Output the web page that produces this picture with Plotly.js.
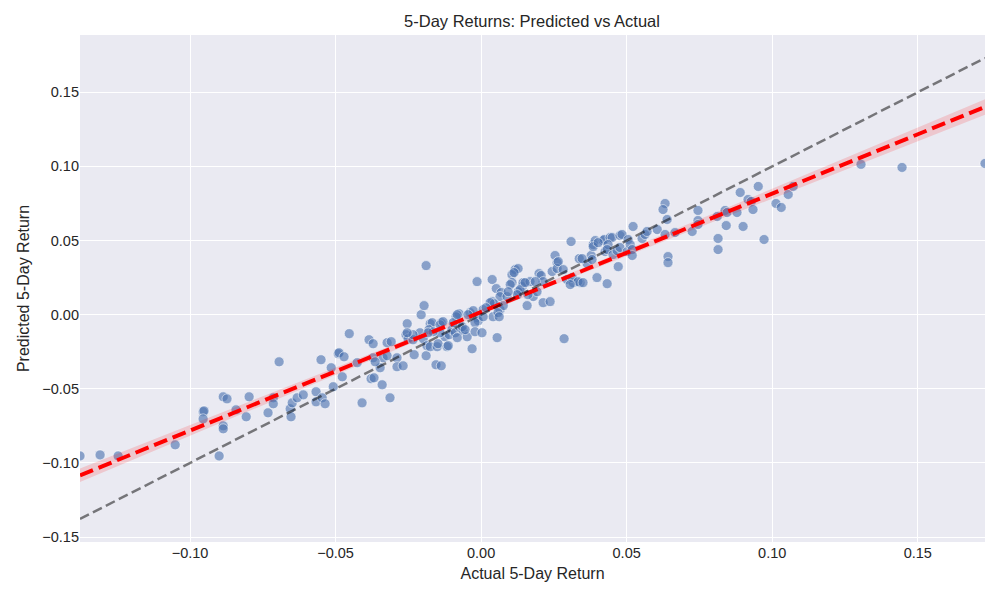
<!DOCTYPE html>
<html>
<head>
<meta charset="utf-8">
<script src="https://cdn.plot.ly/plotly-3.0.1.min.js"></script>
<style>html,body{margin:0;padding:0;background:#fff;}#chart{width:1000px;height:600px;}</style>
</head>
<body>
<div id="chart"></div>
<script>
// Actual 5-day returns (x) and predicted 5-day returns (y)
const actual = [
-0.1378,-0.1309,-0.1247,-0.1051,-0.0955,-0.0952,-0.0955,-0.0900,-0.0886,-0.0873,
-0.0886,-0.0886,-0.0842,-0.0807,-0.0797,-0.0732,-0.0714,-0.0714,-0.0694,-0.0656,
-0.0653,-0.0649,-0.0632,-0.0611,-0.0567,-0.0567,-0.0546,-0.0536,-0.0550,-0.0515,
-0.0508,-0.0491,-0.0488,-0.0471,-0.0477,-0.0453,-0.0426,-0.0409,-0.0385,-0.0371,
-0.0378,-0.0368,-0.0371,-0.0347,-0.0340,-0.0323,-0.0309,-0.0337,-0.0323,-0.0313,
-0.0289,-0.0289,-0.0268,-0.0254,-0.0258,-0.0251,-0.0234,-0.0230,-0.0364,-0.0206,
-0.0196,-0.0210,-0.0199,-0.0189,-0.0175,-0.0168,-0.0179,-0.0186,-0.0175,-0.0151,
-0.0148,-0.0155,-0.0137,-0.0137,-0.0124,-0.0110,-0.0117,-0.0189,-0.0141,-0.0100,
-0.0089,-0.0072,-0.0062,-0.0048,-0.0082,-0.0113,-0.0031,-0.0076,-0.0086,-0.0038,
-0.0027,-0.0014,-0.0010,-0.0021,-0.0014,-0.0096,-0.0065,-0.0055,-0.0021,0.0003,
-0.0045,-0.0082,-0.0165,-0.0141,-0.0131,-0.0182,-0.0234,-0.0254,0.0038,0.0052,
0.0069,0.0065,0.0038,0.0045,0.0117,0.0127,0.0106,0.0113,0.0106,0.0100,
0.0141,0.0144,0.0168,0.0199,0.0206,0.0254,0.0261,0.0244,0.0261,0.0213,
0.0127,0.0134,0.0124,0.0089,0.0093,0.0179,0.0192,0.0161,0.0158,0.0213,
0.0237,0.0065,0.0076,0.0041,0.0058,0.0007,0.0062,0.0007,0.0055,0.0285,
0.0031,0.0151,0.0186,0.0017,0.0309,0.0265,0.0282,0.0295,0.0316,0.0340,
0.0313,0.0333,0.0350,0.0306,0.0337,0.0364,0.0378,0.0381,0.0385,0.0392,
0.0385,0.0398,0.0433,0.0419,0.0423,0.0443,0.0450,0.0402,0.0426,0.0436,
0.0433,0.0453,0.0467,0.0477,0.0477,0.0484,0.0471,0.0502,0.0505,0.0512,
0.0519,0.0519,0.0522,0.0553,0.0563,0.0570,0.0347,0.0605,0.0632,0.0625,
0.0639,0.0632,0.0642,0.0642,0.0666,0.0725,0.0745,0.0745,0.0745,0.0811,
0.0814,0.0814,0.0838,0.0845,0.0842,0.0879,0.0890,0.0900,0.0917,0.0928,
0.0934,0.0952,0.0972,0.1013,0.1031,0.1055,0.1072,0.1305,0.1446,0.1731
];
const predicted = [
-0.0953,-0.0946,-0.0953,-0.0878,-0.0655,-0.0649,-0.0703,-0.0953,-0.0554,-0.0568,
-0.0750,-0.0770,-0.0642,-0.0689,-0.0554,-0.0662,-0.0561,-0.0601,-0.0318,-0.0635,
-0.0689,-0.0595,-0.0561,-0.0541,-0.0520,-0.0588,-0.0561,-0.0601,-0.0304,-0.0358,
-0.0486,-0.0264,-0.0257,-0.0284,-0.0419,-0.0128,-0.0324,-0.0595,-0.0169,-0.0196,
-0.0432,-0.0426,-0.0291,-0.0358,-0.0473,-0.0189,-0.0182,-0.0291,-0.0277,-0.0561,
-0.0291,-0.0351,-0.0345,-0.0061,-0.0135,-0.0162,-0.0169,-0.0270,-0.0318,0.0000,
0.0061,-0.0122,-0.0162,-0.0277,-0.0061,-0.0054,-0.0101,-0.0209,-0.0216,-0.0216,
-0.0196,-0.0338,-0.0345,-0.0054,-0.0149,-0.0135,-0.0216,0.0331,-0.0122,-0.0101,
-0.0122,-0.0088,-0.0108,-0.0149,-0.0155,-0.0209,-0.0230,0.0007,-0.0014,0.0014,
0.0027,-0.0020,-0.0041,-0.0054,0.0223,-0.0054,-0.0081,-0.0101,-0.0115,-0.0122,
0.0000,0.0000,-0.0115,-0.0068,-0.0047,-0.0122,-0.0135,-0.0122,0.0237,0.0176,
0.0149,0.0122,0.0088,0.0074,0.0304,0.0311,0.0270,0.0284,0.0216,0.0203,
0.0189,0.0216,0.0223,0.0277,0.0264,0.0399,0.0351,0.0291,0.0311,0.0223,
0.0155,0.0169,0.0135,0.0122,0.0155,0.0122,0.0155,0.0135,0.0061,0.0081,
0.0088,0.0034,0.0061,-0.0014,0.0014,0.0034,-0.0014,-0.0014,-0.0155,-0.0162,
0.0081,0.0216,0.0223,0.0047,0.0493,0.0358,0.0304,0.0237,0.0216,0.0216,
0.0250,0.0223,0.0216,0.0203,0.0378,0.0345,0.0399,0.0372,0.0473,0.0500,
0.0459,0.0250,0.0209,0.0500,0.0507,0.0520,0.0520,0.0486,0.0426,0.0473,
0.0439,0.0405,0.0432,0.0453,0.0534,0.0541,0.0324,0.0426,0.0507,0.0473,
0.0439,0.0399,0.0595,0.0514,0.0541,0.0561,0.0378,0.0574,0.0750,0.0709,
0.0642,0.0541,0.0392,0.0351,0.0554,0.0561,0.0703,0.0635,0.0608,0.0662,
0.0514,0.0439,0.0703,0.0689,0.0601,0.0689,0.0824,0.0595,0.0777,0.0764,
0.0709,0.0865,0.0507,0.0750,0.0723,0.0811,0.0865,0.1014,0.0993,0.1020
];

const xTickVals = [-0.10, -0.05, 0.00, 0.05, 0.10, 0.15];
const yTickVals = [-0.15, -0.10, -0.05, 0.00, 0.05, 0.10, 0.15];

const titleText = "5-Day Returns: Predicted vs Actual";
const xTitle = "Actual 5-Day Return";
const yTitle = "Predicted 5-Day Return";

// ---- linear regression with 95% confidence band, computed from the data ----
const n = actual.length;
const mx = actual.reduce((a, b) => a + b, 0) / n;
const my = predicted.reduce((a, b) => a + b, 0) / n;
let sxx = 0, sxy = 0;
for (let i = 0; i < n; i++) { sxx += (actual[i] - mx) ** 2; sxy += (actual[i] - mx) * (predicted[i] - my); }
const slope = sxy / sxx;
const intercept = my - slope * mx;
let sse = 0;
for (let i = 0; i < n; i++) { sse += (predicted[i] - (intercept + slope * actual[i])) ** 2; }
const s = Math.sqrt(sse / (n - 2));
const tCrit = 1.97;

const xMin = Math.min(...actual), xMax = Math.max(...actual);
const gx = [], gy = [], lo = [], hi = [];
for (let k = 0; k <= 100; k++) {
  const xv = xMin + (xMax - xMin) * k / 100;
  const yv = intercept + slope * xv;
  const se = s * Math.sqrt(1 / n + (xv - mx) ** 2 / sxx);
  gx.push(xv); gy.push(yv); lo.push(yv - tCrit * se); hi.push(yv + tCrit * se);
}
const bandX = gx.concat(gx.slice().reverse());
const bandY = hi.concat(lo.slice().reverse());

// y-range like matplotlib autoscale (5% margins) over everything drawn
const allY = predicted.concat(lo, hi, [xMin, xMax]);
const yLo = Math.min(...allY), yHi = Math.max(...allY);
const pad = (yHi - yLo) * 0.05;

const traces = [
  {
    x: actual, y: predicted, type: "scatter", mode: "markers",
    marker: { size: 10, color: "rgba(76,114,176,0.62)", line: { color: "rgba(255,255,255,0.7)", width: 0.8 } },
    hoverinfo: "x+y", showlegend: false
  },
  {
    x: bandX, y: bandY, type: "scatter", mode: "lines", fill: "toself",
    fillcolor: "rgba(255,0,0,0.15)", line: { width: 0, color: "rgba(0,0,0,0)" },
    hoverinfo: "skip", showlegend: false
  },
  {
    x: gx, y: gy, type: "scatter", mode: "lines",
    line: { color: "#ff0000", width: 4, dash: "14px,6px" },
    hoverinfo: "skip", showlegend: false
  },
  {
    x: [xMin, xMax], y: [xMin, xMax], type: "scatter", mode: "lines",
    line: { color: "rgba(0,0,0,0.5)", width: 2.5, dash: "10px,4.5px" },
    hoverinfo: "skip", showlegend: false
  }
];

const fontFam = "Arial, 'Liberation Sans', sans-serif";
const layout = {
  width: 1000, height: 600,
  margin: { l: 80, r: 15, t: 35, b: 58 },
  paper_bgcolor: "#ffffff",
  plot_bgcolor: "#EAEAF2",
  font: { family: fontFam, size: 15, color: "#262626" },
  title: { text: titleText, font: { family: fontFam, size: 16.5, color: "#262626" }, x: 0.532, xanchor: "center", y: 0.965, yanchor: "middle" },
  xaxis: {
    range: [xMin, xMax],
    tickvals: xTickVals, tickformat: ".2f",
    showgrid: true, gridcolor: "#ffffff", gridwidth: 1,
    zeroline: false, showline: false, ticks: "",
    tickfont: { size: 14.5, color: "#262626" },
    title: { text: xTitle, font: { size: 16, color: "#262626" }, standoff: 8 }
  },
  yaxis: {
    range: [yLo - pad, yHi + pad],
    tickvals: yTickVals, tickformat: ".2f",
    showgrid: true, gridcolor: "#ffffff", gridwidth: 1,
    zeroline: false, showline: false, ticks: "",
    tickfont: { size: 14.5, color: "#262626" },
    title: { text: yTitle, font: { size: 16, color: "#262626" }, standoff: 8 }
  }
};

Plotly.newPlot("chart", traces, layout, { displayModeBar: false, staticPlot: true });
</script>
</body>
</html>
